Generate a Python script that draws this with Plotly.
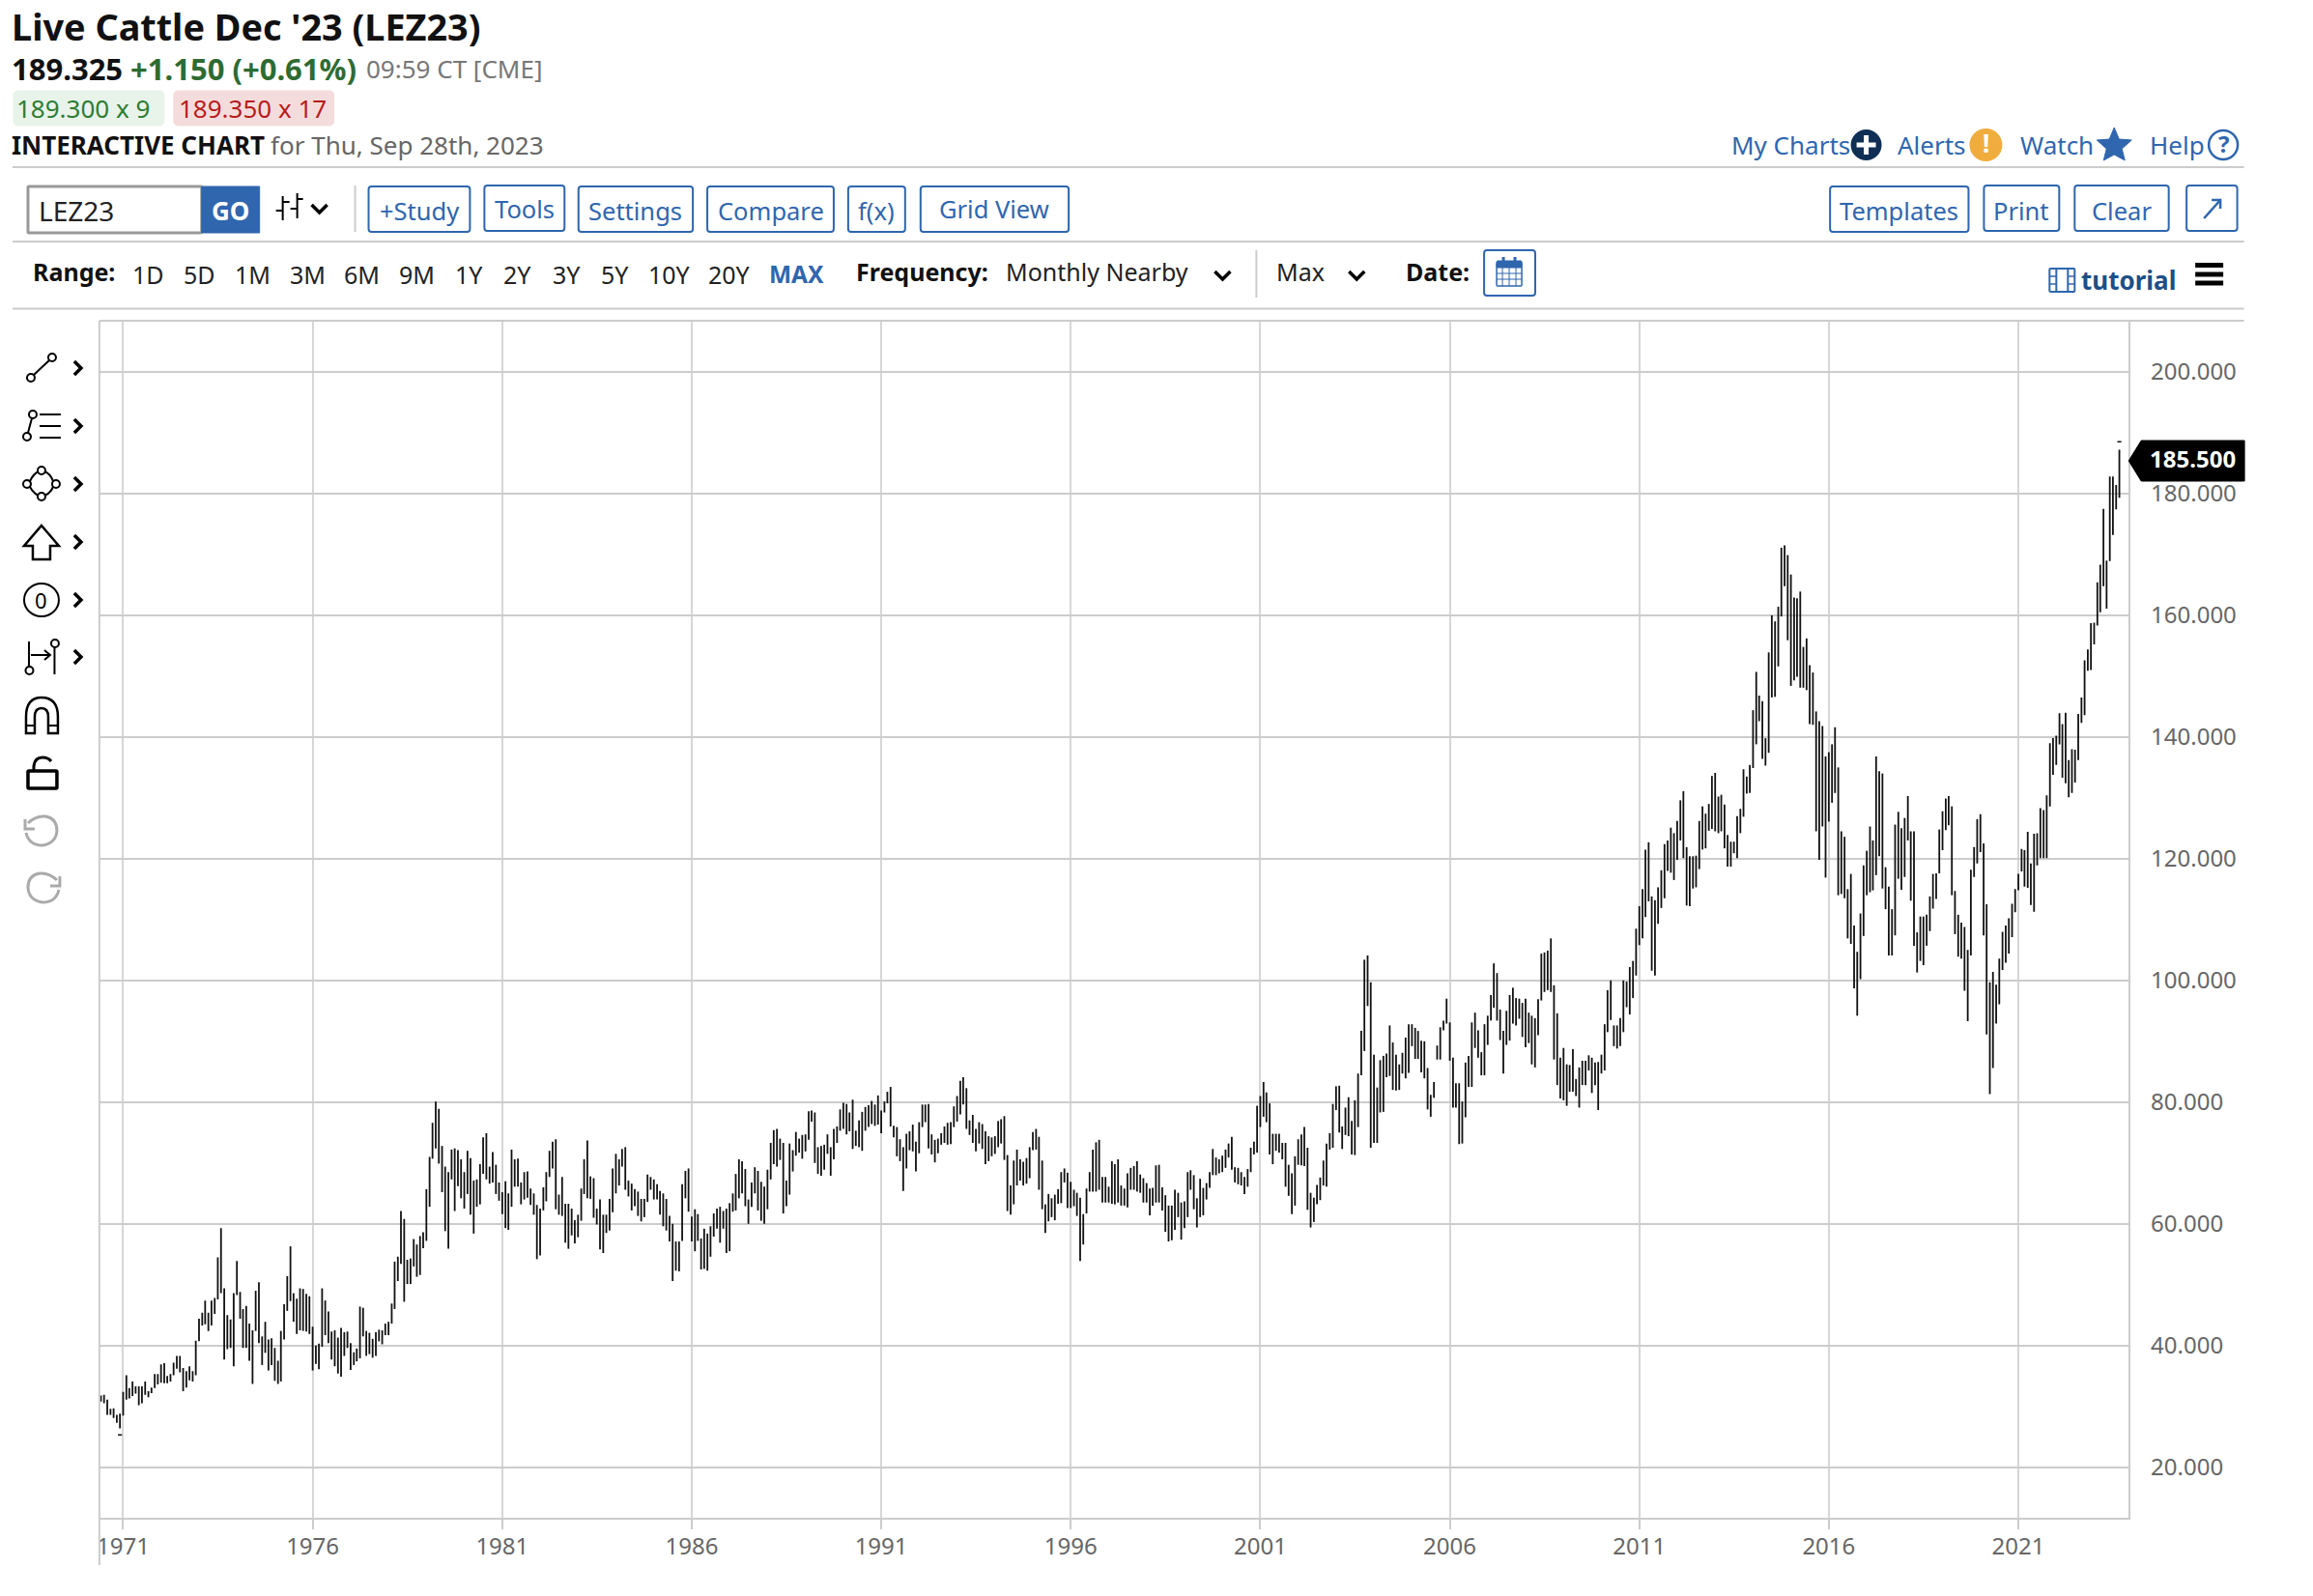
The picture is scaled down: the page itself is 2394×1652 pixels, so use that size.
import re
import pandas as pd
import plotly.graph_objects as go

# monthly nearby highs, Jun 1970 to Sep 2023, one row per year
highs = [
    31.8,31.9,31.1,29.6,29.7,28.6,28.8,
    32.4,35.1,33.0,34.1,33.3,33.3,33.3,34.1,32.5,33.1,35.3,35.3,
    36.9,37.1,35.0,35.3,37.2,38.3,38.3,36.3,35.8,36.6,35.8,40.8,
    44.4,45.4,47.4,45.4,47.4,47.8,54.5,59.3,49.4,45.0,44.3,48.6,
    53.9,48.8,46.0,46.5,43.6,42.5,49.0,50.4,41.5,43.9,41.0,41.2,
    39.6,37.5,42.4,46.8,51.4,56.3,48.6,47.7,49.4,49.3,48.5,48.1,
    43.1,40.0,40.3,49.4,47.4,45.6,42.3,42.5,41.3,42.9,42.2,42.3,
    40.4,38.9,39.5,46.4,46.2,42.4,42.1,41.1,42.2,42.6,42.5,43.6,
    43.9,46.9,53.8,54.6,62.1,60.8,54.1,54.3,57.5,56.6,58.0,58.6,
    65.7,71.0,76.6,80.1,78.9,72.8,69.4,68.5,72.2,72.4,72.1,70.6,
    68.5,72.0,70.8,67.1,67.3,69.8,74.2,74.9,69.4,71.8,69.7,66.8,
    65.2,67.0,65.0,72.2,70.6,70.7,66.8,68.5,68.6,65.8,65.0,63.1,
    62.5,66.0,68.5,72.0,73.5,73.9,64.8,67.7,63.3,63.3,62.5,60.6,
    61.5,65.8,70.6,73.7,67.8,67.5,62.5,64.0,61.5,61.5,64.1,69.1,
    71.5,70.6,72.3,72.6,67.1,66.6,65.7,65.3,64.1,64.1,68.1,67.7,
    67.3,66.5,65.4,65.0,64.1,61.3,60.0,57.1,57.1,66.5,68.7,69.1,
    61.2,62.4,61.6,57.6,59.2,58.4,59.6,61.7,62.5,62.8,62.1,62.5,
    63.4,65.0,68.2,70.6,70.3,69.0,64.0,66.8,69.3,68.7,66.9,66.1,
    68.9,73.3,75.4,75.6,74.0,73.3,67.1,73.2,72.1,75.1,74.0,74.6,
    74.7,78.5,78.6,78.3,72.6,72.8,73.0,74.7,72.6,75.6,76.0,78.8,
    79.9,79.7,78.3,80.4,75.3,77.0,78.4,79.2,79.5,80.2,79.6,81.1,
    78.6,80.1,81.7,82.5,76.1,75.9,73.9,72.6,74.8,75.2,76.3,73.5,
    76.7,79.6,79.6,79.7,74.7,73.8,74.0,74.9,76.0,76.6,76.7,79.3,
    81.0,83.5,84.1,82.3,77.0,77.9,75.6,76.7,76.4,75.2,74.4,74.2,
    74.4,76.9,77.2,77.7,71.3,66.3,70.4,72.2,70.6,70.2,70.8,72.6,
    75.1,75.6,74.3,70.4,63.2,64.9,64.2,64.8,65.7,68.5,69.1,68.4,
    66.9,65.6,65.1,64.3,61.6,65.8,68.5,72.2,73.4,73.8,67.7,67.7,
    66.1,70.3,69.8,70.6,66.3,65.8,68.3,69.2,69.5,70.3,68.1,67.5,
    66.7,65.8,65.9,69.6,69.7,66.0,64.7,63.0,63.0,65.6,65.1,63.5,
    63.7,68.5,68.8,68.0,64.2,67.4,65.9,66.7,68.5,72.3,70.9,70.6,
    71.2,72.2,73.2,74.3,69.3,69.2,68.5,67.7,69.0,72.5,73.5,79.4,
    81.0,83.3,81.6,79.8,74.8,74.8,74.8,73.3,73.3,69.7,68.3,71.1,
    73.9,74.7,75.9,72.5,65.1,64.3,66.4,67.6,70.4,73.2,74.9,79.7,
    82.6,82.7,76.0,79.1,80.8,76.9,80.3,84.7,91.7,103.4,104.1,99.7,
    87.8,82.4,86.9,87.6,88.0,92.6,89.8,87.8,86.2,88.1,90.6,92.8,
    92.8,92.2,91.7,90.1,90.0,85.6,81.2,83.3,89.3,92.3,93.4,97.0,
    93.1,87.3,83.1,83.1,80.1,86.5,87.6,93.1,94.7,91.8,88.2,92.8,
    94.2,97.6,102.8,101.2,95.2,91.7,95.0,97.6,98.8,97.1,97.0,96.3,
    97.0,94.7,94.2,93.8,96.9,104.4,104.6,104.9,106.9,99.2,94.6,87.3,
    88.9,86.2,86.1,88.7,83.8,85.7,86.8,86.8,87.7,87.3,86.5,86.6,
    87.8,92.8,98.4,100.0,92.6,92.6,93.8,100.0,99.8,102.2,103.2,108.5,
    112.2,115.0,121.5,122.7,113.8,113.2,115.3,118.1,122.4,123.0,125.1,124.2,
    126.2,129.6,131.1,121.9,120.4,120.4,120.5,126.2,128.6,127.4,129.0,133.6,
    134.1,130.2,130.5,128.9,123.9,122.8,122.8,127.0,128.2,134.7,133.5,135.4,
    144.4,150.7,146.8,145.9,139.8,153.9,160.0,159.0,161.4,171.1,171.5,169.9,
    166.7,162.9,162.8,163.9,154.8,156.2,151.8,150.6,144.2,142.6,141.8,136.8,
    137.5,138.8,141.6,135.0,124.5,123.6,115.0,117.5,109.0,104.7,111.0,118.9,
    121.3,125.3,123.0,136.8,134.4,134.0,118.6,115.4,111.7,125.6,127.7,125.0,
    126.7,130.3,124.5,124.5,107.9,110.5,110.5,110.8,113.8,117.5,117.6,124.8,
    127.8,129.9,130.3,128.6,114.7,110.8,109.5,108.8,105.0,118.2,121.9,126.5,
    127.3,122.5,112.5,99.7,101.4,99.3,103.6,108.0,109.0,110.2,112.6,115.0,
    117.5,121.6,121.4,124.4,119.2,124.1,124.2,128.3,128.0,130.4,139.0,139.8,
    140.2,143.9,142.1,144.0,136.2,138.0,137.9,143.8,146.5,152.6,154.4,158.7,
    158.8,165.4,168.3,177.5,169.0,182.8,182.8,181.4,187.2,
]
lows = [
    30.8,30.5,28.6,28.6,28.1,27.3,26.4,
    28.5,31.1,31.3,31.7,32.1,30.2,30.5,31.9,31.5,32.2,33.0,33.6,
    33.9,33.8,33.8,34.1,35.1,36.2,35.6,32.5,33.1,34.3,34.1,35.1,
    40.7,43.3,43.5,42.4,43.3,45.2,47.6,48.6,37.7,39.4,39.6,36.6,
    48.3,44.4,39.6,39.6,37.5,33.7,42.4,40.4,36.8,38.8,35.9,36.8,
    34.2,33.7,34.1,41.0,45.7,47.3,43.9,41.9,42.5,42.4,42.3,41.9,
    35.9,37.0,36.1,39.8,41.7,40.4,37.7,36.6,35.4,34.9,38.3,39.6,
    36.0,36.8,37.4,37.9,41.5,38.3,38.6,38.0,38.3,40.7,40.2,41.7,
    41.7,43.6,46.0,50.6,53.4,47.2,50.1,50.1,53.0,51.3,51.6,56.0,
    57.2,62.8,70.7,72.4,69.9,65.2,58.8,55.9,67.3,62.1,66.2,64.2,
    62.5,64.9,61.5,58.4,62.8,63.2,68.2,67.3,66.6,66.8,64.9,63.8,
    61.6,59.3,59.0,62.8,66.1,66.1,63.2,64.0,64.3,63.1,61.5,54.2,
    54.8,62.2,63.7,67.7,69.1,62.4,61.5,61.3,56.9,55.9,58.1,56.8,
    57.8,60.5,64.9,64.2,64.1,61.0,59.9,55.8,55.2,58.5,58.9,61.9,
    65.0,66.3,69.4,65.6,64.5,62.2,62.9,61.3,60.4,61.1,63.6,65.6,
    64.0,64.0,61.5,59.6,58.9,57.1,50.6,52.3,52.2,57.2,64.2,62.0,
    57.1,55.5,57.2,52.5,52.6,52.3,54.6,57.9,59.2,56.9,59.2,55.2,
    55.5,62.0,62.2,64.2,65.0,62.9,60.0,62.8,65.0,62.2,60.5,60.0,
    62.4,67.3,69.8,69.4,70.5,61.7,62.9,64.8,68.6,71.2,71.7,70.7,
    71.9,73.8,76.8,70.0,68.2,67.9,68.9,71.5,67.9,70.6,73.3,75.3,
    75.6,74.7,75.2,72.3,72.8,72.6,72.0,75.3,75.9,76.4,76.1,76.3,
    74.9,78.3,79.8,76.0,74.2,71.1,70.3,65.4,69.1,72.1,71.9,68.6,
    71.6,75.9,76.7,72.4,71.4,70.1,71.6,73.0,73.3,73.0,73.1,75.9,
    76.8,78.0,79.6,75.6,74.6,73.3,71.9,73.2,72.3,69.8,70.3,71.1,
    71.5,72.6,73.2,70.5,62.1,61.5,63.2,66.3,67.1,66.3,66.6,67.5,
    72.1,72.2,65.6,62.4,58.5,60.4,61.1,60.6,63.3,63.4,66.8,62.6,
    62.6,62.9,61.3,53.9,56.6,61.7,65.3,65.3,65.3,65.6,63.5,63.5,
    63.5,63.3,63.2,63.5,63.0,63.0,62.7,65.6,65.6,65.3,65.1,63.5,
    63.5,61.4,63.0,63.5,63.5,62.2,58.7,57.1,57.3,59.0,61.1,57.4,
    59.3,61.1,65.6,62.4,59.4,61.1,61.4,64.0,65.9,68.0,68.0,68.3,
    68.5,69.2,70.9,68.9,66.8,66.5,66.3,64.9,66.1,68.5,71.4,71.7,
    75.9,77.6,76.7,71.4,69.8,72.0,71.7,70.6,66.1,64.6,61.6,63.0,
    69.7,69.6,69.5,62.3,59.4,60.3,63.2,63.9,66.3,66.1,72.2,72.5,
    78.7,75.0,72.3,74.6,74.4,71.4,71.3,75.9,84.4,88.4,95.8,72.5,
    73.3,73.3,78.3,78.4,84.1,84.3,82.0,81.9,82.0,84.7,83.9,84.8,
    89.2,87.1,87.1,84.9,83.9,78.8,77.6,80.7,87.0,87.0,91.8,92.9,
    86.8,79.1,79.1,73.1,73.2,77.5,82.5,82.5,88.9,87.3,84.4,84.4,
    89.4,93.4,95.5,93.4,90.2,84.7,89.4,90.1,92.9,92.6,93.7,90.7,
    89.0,89.7,86.2,85.7,91.0,96.7,98.1,98.4,98.1,87.0,82.8,80.6,
    80.3,79.4,81.7,81.7,81.0,79.1,82.8,82.8,85.2,81.5,82.8,78.7,
    84.7,85.2,91.5,93.5,89.2,88.8,89.2,91.5,95.6,94.4,97.1,100.8,
    105.8,106.9,110.4,113.0,101.6,100.8,109.3,111.9,113.5,118.0,117.7,116.5,
    119.8,123.0,120.1,112.3,112.2,115.1,115.3,118.3,121.5,121.7,124.6,124.9,
    124.5,124.2,124.5,121.7,118.7,118.7,120.9,120.1,124.2,126.9,130.7,130.8,
    134.9,138.8,142.6,136.4,135.3,137.4,146.5,146.6,151.6,159.8,164.8,155.9,
    148.4,149.3,149.9,148.1,148.1,147.7,142.1,142.0,124.5,119.8,125.3,116.9,
    126.1,129.2,130.8,114.0,114.2,113.5,106.9,106.0,98.7,94.2,100.2,107.3,
    114.0,114.5,114.8,117.3,120.4,115.1,111.7,104.1,104.1,107.4,116.7,114.9,
    117.0,123.0,113.1,105.7,101.3,103.2,102.5,105.7,108.1,111.8,113.4,117.6,
    121.4,124.7,125.5,114.0,107.6,103.9,103.6,98.3,93.3,104.1,117.0,119.2,
    121.1,107.4,91.1,81.3,85.6,92.9,96.1,101.7,102.9,104.4,107.1,111.2,
    114.8,117.9,115.4,115.2,112.4,111.3,118.9,120.1,120.1,120.1,128.6,133.8,
    135.4,138.8,133.3,132.4,130.1,130.8,132.5,136.2,142.3,143.6,150.9,151.0,
    155.2,158.3,160.5,164.8,161.1,168.9,173.2,177.4,179.3,
]
# two lone close ticks that float clear of their bars
gap_months = ["1970-12-01", "2023-09-01"]
gap_values = [25.3, 188.5]

price_ticks = [20, 40, 60, 80, 100, 120, 140, 160, 180, 200]
year_ticks = [1971, 1976, 1981, 1986, 1991, 1996, 2001, 2006, 2011, 2016, 2021]
range_labels = ["1D", "5D", "1M", "3M", "6M", "9M", "1Y", "2Y", "3Y", "5Y", "10Y", "20Y"]
range_centers = [152, 205, 259.5, 317, 373, 430.5, 484.5, 534.5, 585, 635, 692, 754]

months = pd.date_range("1970-06-01", periods=len(highs), freq="MS")

BLUE = "#2f66ae"
FONT = "Noto Sans"
NUDGE = 1
W, H = 2394, 1652
shapes = []
notes = []


def fx(x):
    return (x - NUDGE) / W


def fy(y):
    return 1 - y / H


def path(s, color="black", width=2, fill=None):
    parts = re.findall(r"[A-Za-z]|-?[\d.]+", s)
    out = []
    is_x = True
    for p in parts:
        if p.isalpha():
            out.append(p)
        else:
            out.append(f"{fx(float(p)) if is_x else fy(float(p)):.5f}")
            is_x = not is_x
    shapes.append(dict(type="path", xref="paper", yref="paper", path=" ".join(out),
                       line=dict(color=color, width=width), fillcolor=fill or "rgba(0,0,0,0)"))


def line(x0, y0, x1, y1, color="#cccccc", width=2):
    shapes.append(dict(type="line", xref="paper", yref="paper", x0=fx(x0), y0=fy(y0), x1=fx(x1), y1=fy(y1),
                       line=dict(color=color, width=width)))


def box(x0, y0, x1, y1, color=BLUE, width=2, fill=None, r=3):
    s = (f"M {x0+r} {y0} L {x1-r} {y0} Q {x1} {y0} {x1} {y0+r} L {x1} {y1-r} Q {x1} {y1} {x1-r} {y1} "
         f"L {x0+r} {y1} Q {x0} {y1} {x0} {y1-r} L {x0} {y0+r} Q {x0} {y0} {x0+r} {y0} Z")
    path(s, color, width, fill)


def circle(cx, cy, rx, ry=None, color="black", width=2, fill=None):
    ry = ry or rx
    shapes.append(dict(type="circle", xref="paper", yref="paper", x0=fx(cx - rx), x1=fx(cx + rx),
                       y0=fy(cy - ry), y1=fy(cy + ry), line=dict(color=color, width=width),
                       fillcolor=fill or "rgba(0,0,0,0)"))


def text(x, y, s, size=26, color="#111111", bold=False, anchor="left"):
    if anchor == "left":
        x -= 2.5
    notes.append(dict(xref="paper", yref="paper", x=fx(x), y=fy(y - 1.5), xanchor=anchor, yanchor="middle",
                      text=f"<b>{s}</b>" if bold else s, showarrow=False, borderpad=0,
                      font=dict(family=FONT, size=size, color=color)))


def button(x0, x1, s, y0=193, y1=240, ty=220):
    box(x0, y0, x1, y1)
    text((x0 + x1) / 2, ty, s, 25.5, BLUE, anchor="center")


def chevron(cx, cy):
    path(f"M {cx-8} {cy-4} L {cx} {cy+4} L {cx+8} {cy-4}", "black", 3.5)


# header
text(12, 28.5, "Live Cattle Dec '23 (LEZ23)", 37.8, "#111111", True)
text(12, 72, "189.325", 31, "#111111", True)
text(135, 72, "+1.150 (+0.61%)", 31, "#2e6b32", True)
text(379, 73, "09:59 CT [CME]", 26, "#777777")
box(12, 94, 168, 130, "#e8f3ea", 1, "#e8f3ea", 5)
box(178, 94, 344, 130, "#f5dcdc", 1, "#f5dcdc", 5)
text(17, 113, "189.300 x 9", 26, "#2e7d32")
text(185, 113, "189.350 x 17", 26, "#b71c1c")
text(12, 152, "INTERACTIVE CHART", 26, "#111111", True)
text(280, 152, "for Thu, Sep 28th, 2023", 26, "#666666")

text(1794, 151, "My Charts", 26, BLUE)
circle(1932, 150, 15, color="#0f2f55", fill="#0f2f55")
line(1922, 150, 1942, 150, "white", 5)
line(1932, 140, 1932, 160, "white", 5)
text(1966, 151, "Alerts", 26, BLUE)
circle(2056, 150, 16, color="#f0ad3e", fill="#f0ad3e")
text(2056, 150, "!", 26, "white", True, "center")
text(2093, 151, "Watch", 26, BLUE)
path("M 2189 132 L 2194 144 L 2207 145 L 2197 154 L 2200 166 L 2189 160 L 2178 166 L 2181 154 L 2171 145 L 2184 144 Z",
     BLUE, 1, BLUE)
text(2227, 151, "Help", 26, BLUE)
circle(2302, 150, 15, color=BLUE, width=2.5)
text(2302, 150, "?", 24, BLUE, True, "center")

line(11, 173, 2323.5, 173)
line(11, 250, 2323.5, 250)
line(11, 319.5, 2323.5, 319.5)

# toolbar
box(27, 193, 207, 241, "#999999", 3, "white", 1)
text(40, 219, "LEZ23", 28, "#222222")
box(207, 193, 267, 241, BLUE, 1, BLUE, 0)
text(237, 219, "GO", 26, "white", True, "center")
line(291, 203, 291, 228, "black", 2)
line(306, 200, 306, 226, "black", 2)
line(284, 218, 291, 218, "black", 2)
line(291, 209, 298, 209, "black", 2)
line(299, 216, 306, 216, "black", 2)
line(306, 206, 312, 206, "black", 2)
chevron(329, 216)
line(366, 192, 366, 240)
button(380, 485, "+Study")
button(500, 583, "Tools", 192, 239, 218)
button(597.5, 716, "Settings")
button(731, 862, "Compare")
button(877, 936, "f(x)")
button(952, 1105.5, "Grid View", ty=217)
button(1894.5, 2038, "Templates")
button(2054, 2132, "Print", 192, 239, 219)
button(2148, 2245.5, "Clear", 192, 239, 219)
box(2264, 192, 2316.5, 239)
path("M 2282 226 L 2299 207 M 2290 207 L 2299 207 L 2299 216", BLUE, 2.5)

# range row
text(34, 283, "Range:", 25, "#111111", True)
for label, cx in zip(range_labels, range_centers):
    text(cx, 285, label, 25, "#222222", anchor="center")
text(824, 285, "MAX", 24.5, BLUE, True, "center")
text(887, 283, "Frequency:", 25, "#111111", True)
text(1042, 283, "Monthly Nearby", 25, "#222222")
chevron(1265, 285)
line(1300, 259, 1300, 308)
text(1322, 283, "Max", 25, "#222222")
chevron(1404, 285)
text(1456, 283, "Date:", 25, "#111111", True)
box(1536, 259, 1589, 306)
box(1549, 272, 1575, 296, BLUE, 1.5, None, 1)
box(1549, 270, 1575, 277, BLUE, 1, BLUE, 1)
line(1556, 266, 1556, 273, BLUE, 3)
line(1568, 266, 1568, 273, BLUE, 3)
for gx in (1555, 1562, 1569):
    line(gx, 277, gx, 296, BLUE, 1)
for gy in (283, 289):
    line(1549, gy, 1575, gy, BLUE, 1)
box(2122, 278, 2148, 302, BLUE, 2, None, 1)
line(2129, 278, 2129, 302, BLUE, 2)
line(2141, 278, 2141, 302, BLUE, 2)
for gy in (286, 294):
    line(2122, gy, 2129, gy, BLUE, 1.5)
    line(2141, gy, 2148, gy, BLUE, 1.5)
text(2156, 291, "tutorial", 26, "#1d4f86", True)
for gy in (274.5, 284, 293):
    line(2273, gy, 2302, gy, "black", 5)

# drawing tools down the left
for cy in (381, 441, 501, 561, 621, 680):
    path(f"M 75 {cy-7} L 82 {cy} L 75 {cy+7}", "black", 3.5)
circle(30, 391, 4)
circle(52, 370, 4)
line(33, 388, 49, 373, "black", 2)
circle(26, 452, 4)
circle(32, 429, 4)
line(27, 448, 31, 433, "black", 2)
for gy in (429, 441, 453):
    line(39, gy, 61, gy, "black", 2)
path("M 29 498 Q 33 490 38 488 M 44 488 Q 50 490 53 498 M 53 504 Q 50 511 44 513 M 38 513 Q 33 511 29 504", "black", 2)
for cx, cy in ((41, 487), (56, 501), (41, 514), (26, 501)):
    circle(cx, cy, 4)
path("M 41 544 L 59 565 L 50 565 L 50 579 L 32 579 L 32 565 L 23 565 Z", "black", 2.5)
circle(41, 621, 18, 17)
text(41, 622.5, "0", 22, "black", anchor="center")
line(28, 664, 28, 690, "black", 2)
circle(28.5, 694, 4)
path("M 30 678 L 50 678 M 44 673 L 50 678 L 44 683", "black", 2)
circle(55, 666, 4)
line(54.5, 670, 54.5, 698, "black", 2)
path("M 25 759 L 25 742 Q 25 722 41 722 Q 58 722 58 742 L 58 759 L 48 759 L 48 742 Q 48 733 41 733 Q 34 733 34 742 L 34 759 Z",
     "black", 2.5)
line(25, 751, 34, 751, "black", 2)
line(48, 751, 58, 751, "black", 2)
box(27, 798, 57, 816, "black", 3.5, None, 1)
path("M 33 798 L 33 793 Q 34 784 42 784 Q 48 784 51 788", "black", 3)
path("M 27 852 Q 35 844 45 845 Q 57 847 57 860 Q 56 873 42 875 Q 28 875 25 862 M 24 848 L 24 858 L 34 858", "#aaaaaa", 3)
path("M 57 911 Q 49 903 39 904 Q 27 906 27 919 Q 28 932 42 934 Q 56 934 59 921 M 60 907 L 60 917 L 50 917", "#aaaaaa", 3)

# plot frame, price flag
line(101, 332, 101, 1620)
line(101, 332, 2323.5, 332)
path("M 2204 477 L 2217 456 L 2324 456 L 2324 498 L 2217 498 Z", "black", 1, "black")
text(2270, 476, "185.500", 24, "white", True, "center")

fig = go.Figure()
# open and close ticks can't be told apart at this size, so bars run low to high with no ticks
fig.add_trace(go.Ohlc(x=months, open=lows, high=highs, low=lows, close=highs, tickwidth=0,
                      increasing=dict(line=dict(color="#111111", width=1.8)),
                      decreasing=dict(line=dict(color="#111111", width=1.8)),
                      showlegend=False))
fig.add_trace(go.Scatter(x=gap_months, y=gap_values, mode="markers", showlegend=False,
                         marker=dict(symbol="line-ew", size=3, line=dict(color="#111111", width=1.5))))

fig.update_layout(
    width=W, height=H, autosize=False, showlegend=False,
    margin=dict(l=0, r=0, t=0, b=0, pad=0),
    paper_bgcolor="white", plot_bgcolor="white",
    font=dict(family=FONT, size=24, color="#666666"),
    shapes=shapes, annotations=notes,
    xaxis=dict(
        domain=[fx(101), fx(2204)], type="date", range=["1970-05-17", "2023-11-30"],
        tickvals=[f"{y}-01-01" for y in year_ticks], ticktext=[str(y) for y in year_ticks],
        showgrid=True, gridcolor="#d6d6d6", gridwidth=2, zeroline=False,
        ticks="outside", ticklen=10, tickcolor="#cccccc", tickwidth=2,
        showline=True, linecolor="#cccccc", linewidth=2, ticklabelstandoff=-3,
        rangeslider=dict(visible=False),
    ),
    yaxis=dict(
        domain=[fy(1570.7), fy(332)], side="right", range=[11.75, 208.4],
        tickvals=price_ticks, tickformat=".3f", ticks="", ticklabelstandoff=16,
        showgrid=True, gridcolor="#cccccc", gridwidth=2, zeroline=False,
        showline=True, linecolor="#cccccc", linewidth=2,
    ),
)

# drop the page's default margin so the figure fills the window exactly
fig.write_html("out.html", config={"displayModeBar": False},
               post_script="document.body.style.margin='0';document.documentElement.style.overflow='hidden';")
